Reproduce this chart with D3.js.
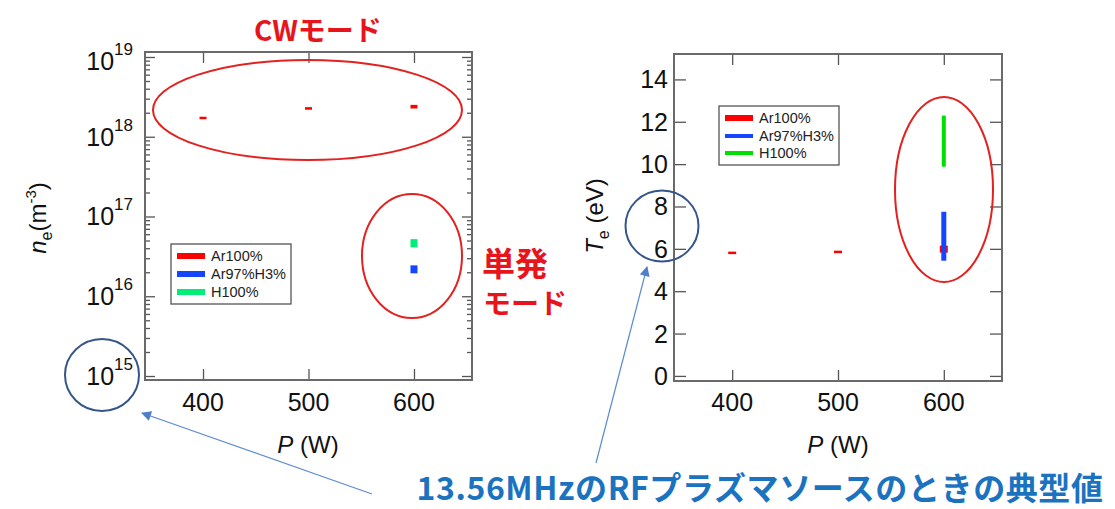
<!DOCTYPE html>
<html><head><meta charset="utf-8">
<script src="https://cdn.jsdelivr.net/npm/d3@7"></script>
<style>
html,body{margin:0;padding:0;background:#fff;}
svg{display:block;}
</style></head>
<body>
<svg id="c" width="1115" height="509"></svg>
<script>
// ---------- DATA ----------
const seriesNames = ["Ar100%", "Ar97%H3%", "H100%"];
const powers = [400, 500, 600];
// electron density n_e (m^-3): [low, high] of each short bar
const neAr = [[1.66e18, 1.78e18], [2.18e18, 2.35e18], [2.26e18, 2.51e18]];
const pulsePower = [600];
const neArH = [[1.94e16, 2.44e16]];
const neH = [[4.1e16, 5.2e16]];
// electron temperature T_e (eV): [low, high]
const teAr = [[5.76, 5.86], [5.83, 5.88], [5.82, 6.15]];
const teArH = [[5.44, 7.75]];
const teH = [[9.88, 12.29]];
// ticks
const xTicks = [400, 500, 600];
const neMajorTicks = [1e15, 1e16, 1e17, 1e18, 1e19];
const teTicks = [0, 2, 4, 6, 8, 10, 12, 14];
// texts
const titleCW = "CWモード";
const titlePulse = ["単発", "モード"];
const bottomNote = "13.56MHzのRFプラズマソースのときの典型値";

// ---------- SETUP ----------
const svg = d3.select("#c");
svg.append("rect").attr("width", 1115).attr("height", 509).attr("fill", "#fff");
const FONT = "'Liberation Sans', Arial, sans-serif";
const JP = "'Noto Sans CJK JP', 'Noto Sans', sans-serif";
const frameCol = "#6a6a6a", tickCol = "#555";
const RED = "#ff0000", BLUE = "#1446ff";

const defs = svg.append("defs");
defs.append("marker").attr("id", "ah").attr("viewBox", "0 0 10 10")
  .attr("refX", 9).attr("refY", 5).attr("markerWidth", 12).attr("markerHeight", 10)
  .attr("markerUnits", "userSpaceOnUse").attr("orient", "auto")
  .append("path").attr("d", "M0,0 L10,5 L0,10 Z").attr("fill", "#4f7fc8");

function styleAxis(g) {
  g.select(".domain").remove();
  g.selectAll(".tick line").attr("stroke", tickCol).attr("stroke-width", 1.3);
  g.selectAll(".tick text").remove();
}

// ---------- LEFT CHART ----------
const L = {x0: 145, x1: 472, y0: 52, y1: 380};
const xL = d3.scaleLinear().domain([345, 655]).range([L.x0, L.x1]);
const yL = d3.scaleLog().domain([Math.pow(10, 14.95), Math.pow(10, 19.0625)]).range([L.y1, L.y0]);
const gL = svg.append("g");

const minorLog = [];
for (let e = 14; e <= 19; e++) for (let m = 2; m <= 9; m++) {
  const v = m * Math.pow(10, e);
  if (v > yL.domain()[0] && v < yL.domain()[1]) minorLog.push(v);
}
// minor ticks
gL.append("g").attr("transform", `translate(${L.x0},0)`).call(d3.axisLeft(yL).tickValues(minorLog).tickSize(-5)).call(styleAxis);
gL.append("g").attr("transform", `translate(${L.x1},0)`).call(d3.axisRight(yL).tickValues(minorLog).tickSize(-5)).call(styleAxis);
// major ticks
gL.append("g").attr("transform", `translate(${L.x0},0)`).call(d3.axisLeft(yL).tickValues(neMajorTicks).tickSize(-10)).call(styleAxis);
gL.append("g").attr("transform", `translate(${L.x1},0)`).call(d3.axisRight(yL).tickValues(neMajorTicks).tickSize(-10)).call(styleAxis);
gL.append("g").attr("transform", `translate(0,${L.y1})`).call(d3.axisBottom(xL).tickValues(xTicks).tickSize(-11)).call(styleAxis);
gL.append("g").attr("transform", `translate(0,${L.y0})`).call(d3.axisTop(xL).tickValues(xTicks).tickSize(-11)).call(styleAxis);
gL.append("rect").attr("x", L.x0).attr("y", L.y0).attr("width", L.x1 - L.x0).attr("height", L.y1 - L.y0)
  .attr("fill", "none").attr("stroke", frameCol).attr("stroke-width", 2);

// log tick labels
neMajorTicks.forEach(v => {
  const t = gL.append("text").attr("x", 133).attr("y", yL(v) + 9 + (v === 1e19 ? 4 : 0))
    .attr("text-anchor", "end").attr("font-family", FONT).attr("font-size", 25).attr("fill", "#111");
  t.append("tspan").text("10");
  t.append("tspan").attr("font-size", 17).attr("dy", -15).text(Math.round(Math.log10(v)));
});
// x tick labels
xTicks.forEach(v => {
  gL.append("text").attr("x", xL(v)).attr("y", 411).attr("text-anchor", "middle")
    .attr("font-family", FONT).attr("font-size", 25).attr("fill", "#111").text(v);
});
// axis titles
{
  const t = gL.append("text").attr("transform", "translate(46,218) rotate(-90)")
    .attr("text-anchor", "middle").attr("font-family", FONT).attr("font-size", 24).attr("fill", "#111");
  t.append("tspan").attr("font-style", "italic").text("n");
  t.append("tspan").attr("font-size", 16).attr("dy", 6).text("e");
  t.append("tspan").attr("dy", -6).text("(m");
  t.append("tspan").attr("font-size", 15).attr("dy", -10).text("-3");
  t.append("tspan").attr("dy", 10).text(")");
  const p = gL.append("text").attr("x", 308).attr("y", 453).attr("text-anchor", "middle")
    .attr("font-family", FONT).attr("font-size", 24).attr("fill", "#111");
  p.append("tspan").attr("font-style", "italic").text("P");
  p.append("tspan").text(" (W)");
}

function bars(g, xs, ys, data, w, color, minH) {
  g.selectAll(null).data(data).enter().append("rect")
    .attr("x", (d, i) => xs(powersOf(data, i)) - w / 2)
    .attr("y", d => Math.min(ys(d[1]), (ys(d[0]) + ys(d[1])) / 2 - minH / 2))
    .attr("width", w)
    .attr("height", d => Math.max(ys(d[0]) - ys(d[1]), minH))
    .attr("fill", color);
}
function powersOf(data, i) { return data.length === powers.length ? powers[i] : pulsePower[i]; }

bars(gL, xL, yL, neAr, 7, RED, 2.5);
bars(gL, xL, yL, neArH, 7, BLUE, 2.5);
bars(gL, xL, yL, neH, 7, "#00ee78", 2.5);

// legends
function legend(g, x, y, w, h, rows, colors, widths) {
  g.append("rect").attr("x", x).attr("y", y).attr("width", w).attr("height", h)
    .attr("fill", "#fff").attr("stroke", "#555").attr("stroke-width", 1.3);
  seriesNames.forEach((n, i) => {
    g.append("line").attr("x1", x + 6).attr("x2", x + 34).attr("y1", rows[i]).attr("y2", rows[i])
      .attr("stroke", colors[i]).attr("stroke-width", widths[i]);
    g.append("text").attr("x", x + 40).attr("y", rows[i] + 5).attr("font-family", FONT)
      .attr("font-size", 14.5).attr("fill", "#222").text(n);
  });
}
legend(gL, 171, 244, 120, 60, [256, 274, 292], [RED, BLUE, "#00ee78"], [6, 6, 6]);

// ---------- RIGHT CHART ----------
const R = {x0: 674, x1: 1002, y0: 54, y1: 381};
const xR = d3.scaleLinear().domain([345, 655]).range([R.x0, R.x1]);
const yR = d3.scaleLinear().domain([-0.24, 15.2]).range([R.y1, R.y0]);
const gR = svg.append("g");
gR.append("g").attr("transform", `translate(${R.x0},0)`).call(d3.axisLeft(yR).tickValues(teTicks).tickSize(-12)).call(styleAxis);
gR.append("g").attr("transform", `translate(${R.x1},0)`).call(d3.axisRight(yR).tickValues(teTicks).tickSize(-12)).call(styleAxis);
gR.append("g").attr("transform", `translate(0,${R.y1})`).call(d3.axisBottom(xR).tickValues(xTicks).tickSize(-11)).call(styleAxis);
gR.append("g").attr("transform", `translate(0,${R.y0})`).call(d3.axisTop(xR).tickValues(xTicks).tickSize(-11)).call(styleAxis);
gR.append("rect").attr("x", R.x0).attr("y", R.y0).attr("width", R.x1 - R.x0).attr("height", R.y1 - R.y0)
  .attr("fill", "none").attr("stroke", frameCol).attr("stroke-width", 2);
teTicks.forEach(v => {
  gR.append("text").attr("x", 668).attr("y", yR(v) + 9).attr("text-anchor", "end")
    .attr("font-family", FONT).attr("font-size", 25).attr("fill", "#111").text(v);
});
xTicks.forEach(v => {
  gR.append("text").attr("x", xR(v)).attr("y", 411).attr("text-anchor", "middle")
    .attr("font-family", FONT).attr("font-size", 25).attr("fill", "#111").text(v);
});
{
  const t = gR.append("text").attr("transform", "translate(603,216) rotate(-90)")
    .attr("text-anchor", "middle").attr("font-family", FONT).attr("font-size", 24).attr("fill", "#111");
  t.append("tspan").attr("font-style", "italic").text("T");
  t.append("tspan").attr("font-size", 16).attr("dy", 6).text("e");
  t.append("tspan").attr("dy", -6).text(" (eV)");
  const p = gR.append("text").attr("x", 838).attr("y", 453).attr("text-anchor", "middle")
    .attr("font-family", FONT).attr("font-size", 24).attr("fill", "#111");
  p.append("tspan").attr("font-style", "italic").text("P");
  p.append("tspan").text(" (W)");
}
bars(gR, xR, yR, teAr, 8, RED, 2.5);
bars(gR, xR, yR, teArH, 5, BLUE, 2.5);
bars(gR, xR, yR, teH, 4, "#00e000", 2.5);
legend(gR, 719, 106, 120, 59, [118, 136, 153], [RED, BLUE, "#00e000"], [6, 4, 4]);

// ---------- ANNOTATIONS ----------
const ann = svg.append("g");
const ell = (cx, cy, rx, ry, col) => ann.append("ellipse").attr("cx", cx).attr("cy", cy).attr("rx", rx).attr("ry", ry)
  .attr("fill", "none").attr("stroke", col).attr("stroke-width", 2);
ell(307.5, 110, 154.5, 50, "#e3211f");
ell(412, 256, 50, 62, "#e3211f");
ell(944, 189.5, 49, 92.5, "#e3211f");
ell(102, 375, 37, 36, "#36558a");
ell(662, 226, 36.5, 35.5, "#36558a");

ann.append("line").attr("x1", 372).attr("y1", 494).attr("x2", 142).attr("y2", 413)
  .attr("stroke", "#5b8bd0").attr("stroke-width", 1.2).attr("marker-end", "url(#ah)");
ann.append("line").attr("x1", 596).attr("y1", 463).attr("x2", 647).attr("y2", 267)
  .attr("stroke", "#5b8bd0").attr("stroke-width", 1.2).attr("marker-end", "url(#ah)");

ann.append("text").attr("x", 318).attr("y", 41).attr("text-anchor", "middle")
  .attr("font-family", JP).attr("font-weight", "bold").attr("font-size", 28).attr("fill", "#e8141b").text(titleCW);
ann.append("text").attr("x", 482).attr("y", 276).attr("font-family", JP)
  .attr("font-weight", "bold").attr("font-size", 33).attr("fill", "#e8141b").text(titlePulse[0]);
ann.append("text").attr("x", 483).attr("y", 314).attr("font-family", JP)
  .attr("font-weight", "bold").attr("font-size", 28).attr("fill", "#e8141b").text(titlePulse[1]);
ann.append("text").attr("x", 760).attr("y", 499.5).attr("text-anchor", "middle")
  .attr("font-family", JP).attr("font-weight", "bold").attr("font-size", 32).attr("letter-spacing", 0.6)
  .attr("fill", "#1b73c0").text(bottomNote);
</script>
</body></html>
